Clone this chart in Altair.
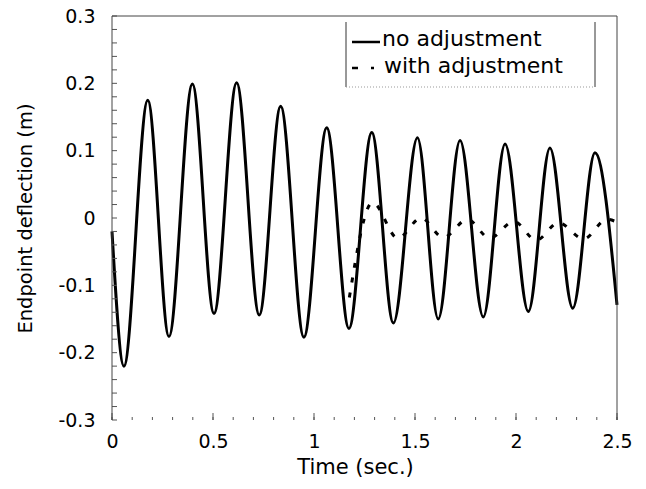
import altair as alt
import pandas as pd

# ---- data ----
# "no adjustment": extrema of the oscillation (time in s, deflection in m)
t_no = [0.0, 0.059, 0.177, 0.282, 0.398, 0.505, 0.617, 0.729, 0.835, 0.950,
        1.063, 1.173, 1.286, 1.393, 1.512, 1.615, 1.723, 1.838, 1.946, 2.061,
        2.168, 2.281, 2.391, 2.5]
y_no = [-0.020, -0.220, 0.175, -0.176, 0.199, -0.142, 0.201, -0.144, 0.166, -0.177,
        0.134, -0.164, 0.127, -0.156, 0.119, -0.150, 0.115, -0.147, 0.110, -0.139,
        0.104, -0.134, 0.097, -0.129]

# "with adjustment"
t_adj = [1.175, 1.290, 1.415, 1.530, 1.640, 1.760, 1.870, 1.990, 2.100, 2.210,
         2.335, 2.450, 2.5]
y_adj = [-0.118, 0.023, -0.030, 0.000, -0.029, -0.002, -0.030, -0.005, -0.033, -0.007,
         -0.031, -0.002, -0.006]

series_names = ["no adjustment", "with adjustment"]
x_tick_labels = [0, 0.5, 1, 1.5, 2, 2.5]
y_tick_labels = [-0.3, -0.2, -0.1, 0, 0.1, 0.2, 0.3]
x_minor_ticks = [round(0.1 * i, 1) for i in range(26)]
y_minor_ticks = [round(-0.3 + 0.02 * i, 2) for i in range(31)]

W, H = 505, 404
FONT = "DejaVu Sans"

df_no = pd.DataFrame({"t": t_no, "y": y_no, "series": series_names[0]})
df_adj = pd.DataFrame({"t": t_adj, "y": y_adj, "series": series_names[1]})

xscale = alt.Scale(domain=[0, 2.5], nice=False, zero=False)
yscale = alt.Scale(domain=[-0.3, 0.3], nice=False, zero=False)

x_axis = alt.Axis(values=x_tick_labels, labelExpr="datum.value + ''", domain=False,
                  ticks=False, tickSize=0, grid=False, labelPadding=21,
                  labelFlush=False, labelOverlap=False,
                  labelBaseline="middle", labelFont=FONT, labelFontSize=19,
                  labelColor="black", title="Time (sec.)", titleFont=FONT,
                  titleFontSize=21, titleFontWeight="normal", titleColor="black",
                  titleX=243, titleY=47, titleBaseline="middle", titleAlign="center")
y_axis = alt.Axis(values=y_tick_labels, labelExpr="datum.value + ''", domain=False,
                  ticks=False, tickSize=0, grid=False, labelPadding=17,
                  labelFlush=False, labelOverlap=False,
                  labelFont=FONT, labelFontSize=19, labelColor="black",
                  title="Endpoint deflection (m)", titleFont=FONT, titleFontSize=19.5,
                  titleFontWeight="normal", titleColor="black", titleX=-87, titleY=202,
                  titleAngle=-90, titleBaseline="middle", titleAlign="center")

solid = alt.Chart(df_no).mark_line(
    color="black", strokeWidth=3, interpolate="monotone", strokeJoin="round"
).encode(
    x=alt.X("t:Q", scale=xscale, axis=x_axis),
    y=alt.Y("y:Q", scale=yscale, axis=y_axis),
)

dashed = alt.Chart(df_adj).mark_line(
    color="black", strokeWidth=3, interpolate="monotone", strokeDash=[5, 10]
).encode(
    x=alt.X("t:Q", scale=xscale),
    y=alt.Y("y:Q", scale=yscale),
)

# inward ticks
xt = pd.DataFrame({"t": x_minor_ticks})
xt["major"] = [abs(v * 2 - round(v * 2)) < 1e-9 for v in x_minor_ticks]
x_ticks_minor = alt.Chart(xt).mark_rule(color="#555", strokeWidth=1).encode(
    x=alt.X("t:Q", scale=xscale), y=alt.value(H), y2=alt.value(H - 3))
x_ticks_major = alt.Chart(xt).transform_filter("datum.major").mark_rule(
    color="#555", strokeWidth=1).encode(
    x=alt.X("t:Q", scale=xscale), y=alt.value(H), y2=alt.value(H - 7))
yt = pd.DataFrame({"y": y_minor_ticks})
y_ticks = alt.Chart(yt).mark_rule(color="#555", strokeWidth=1).encode(
    y=alt.Y("y:Q", scale=yscale), x=alt.value(0), x2=alt.value(5))

# frame (left, top, right)
frame_df = pd.DataFrame({"k": [0]})
left_line = alt.Chart(frame_df).mark_rule(color="#444", strokeWidth=1).encode(
    x=alt.value(0), y=alt.value(0), y2=alt.value(H))
top_line = alt.Chart(frame_df).mark_rule(color="#444", strokeWidth=1).encode(
    x=alt.value(0), x2=alt.value(W), y=alt.value(0))
right_line = alt.Chart(frame_df).mark_rule(color="#444", strokeWidth=1).encode(
    x=alt.value(W), y=alt.value(0), y2=alt.value(H))

# legend (manual)
leg_l = alt.Chart(frame_df).mark_rule(color="#333", strokeWidth=1).encode(
    x=alt.value(234), y=alt.value(6), y2=alt.value(71))
leg_r = alt.Chart(frame_df).mark_rule(color="#333", strokeWidth=1).encode(
    x=alt.value(483), y=alt.value(6), y2=alt.value(71))
leg_b = alt.Chart(frame_df).mark_rule(color="#999", strokeWidth=1, strokeDash=[1, 2]).encode(
    x=alt.value(234), x2=alt.value(483), y=alt.value(71))
leg_s1 = alt.Chart(frame_df).mark_rule(color="black", strokeWidth=2.5).encode(
    x=alt.value(240), x2=alt.value(268), y=alt.value(26))
leg_s2 = alt.Chart(frame_df).mark_rule(color="black", strokeWidth=2.5,
                                       strokeDash=[6, 13, 3, 30]).encode(
    x=alt.value(240), x2=alt.value(266), y=alt.value(52))
leg_df = pd.DataFrame({"label": series_names, "row": [0, 1]})
leg_t1 = alt.Chart(leg_df).transform_filter("datum.row == 0").mark_text(
    font=FONT, fontSize=22, align="left", baseline="alphabetic", color="black").encode(
    text="label:N", x=alt.value(270), y=alt.value(30))
leg_t2 = alt.Chart(leg_df).transform_filter("datum.row == 1").mark_text(
    font=FONT, fontSize=22, align="left", baseline="alphabetic", color="black").encode(
    text="label:N", x=alt.value(272), y=alt.value(57))

chart = alt.layer(
    solid, dashed, x_ticks_minor, x_ticks_major, y_ticks,
    left_line, top_line, right_line,
    leg_l, leg_r, leg_b, leg_s1, leg_s2, leg_t1, leg_t2,
).properties(
    width=W, height=H,
    autosize=alt.AutoSizeParams(type="none"),
    padding={"left": 112, "top": 16, "right": 29, "bottom": 69},
    background="white",
).configure_view(stroke=None)

chart.save("out.html", embed_options={"renderer": "svg", "actions": False})
